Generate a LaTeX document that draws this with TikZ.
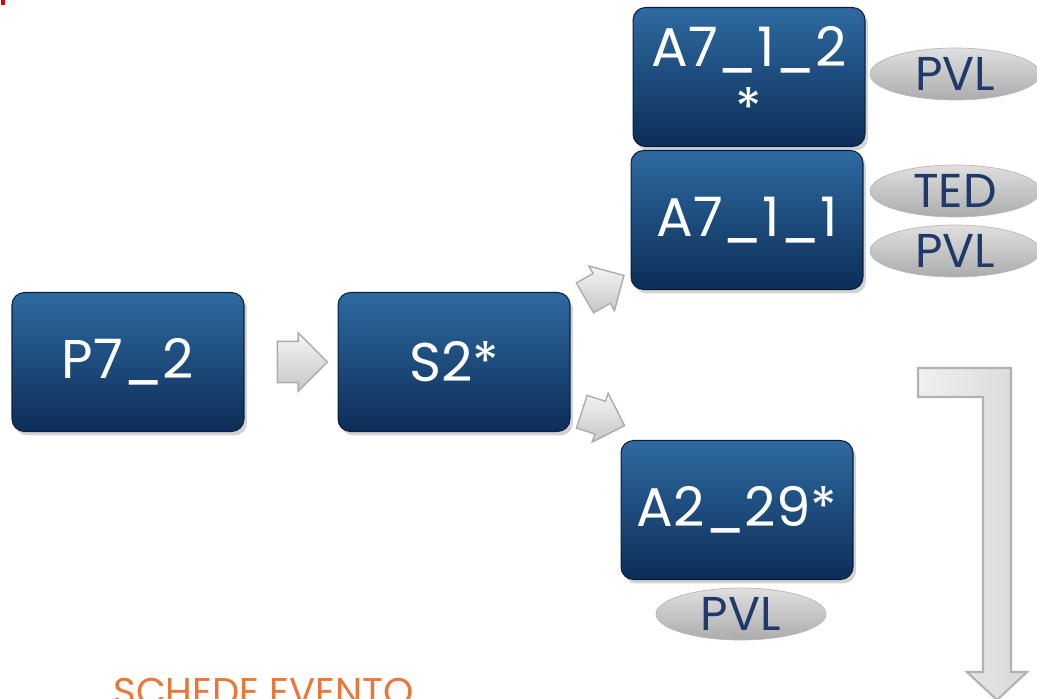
\documentclass[tikz,border=0pt]{standalone}
\usepackage{fontspec}
\setmainfont{Poppins}
\usepackage{tikz}
\usetikzlibrary{shapes.geometric}
\usetikzlibrary{shapes.arrows}
\usetikzlibrary{shadows}

\definecolor{boxtop}{HTML}{2E6AA1}
\definecolor{boxbot}{HTML}{0C2D57}
\definecolor{pvltext}{HTML}{1F3A6A}
\definecolor{titleorange}{HTML}{E8773A}

\begin{document}
\begin{tikzpicture}[x=0.02cm, y=-0.02cm,
    card/.style={rounded corners=0.25cm, top color=boxtop, bottom color=boxbot,
        draw=boxbot!70!black, line width=0.6pt, minimum width=4.64cm, minimum height=2.78cm,
        text=white, align=center, font=\fontsize{31}{33}\selectfont,
        drop shadow={shadow xshift=0.6mm, shadow yshift=-0.8mm, opacity=0.35}},
    tag/.style={ellipse, top color=gray!25, bottom color=gray!65, draw=gray!55,
        minimum width=3.4cm, minimum height=1.04cm, inner sep=0pt,
        text=pvltext, font=\fontsize{27}{28}\selectfont},
    blockarrow/.style={single arrow, inner sep=0pt, single arrow head extend=0.17cm,
        top color=gray!8, bottom color=gray!45, draw=gray!65, line width=0.8pt}
    ]
            % Fix the size of the picture
            \useasboundingbox (0,0) rectangle (1037,699);

            % Small red mark in the corner
            \fill[red!85!black] (1,0) rectangle (5,5);

            % Draw the cards
            \node[card] (P72) at (128,362) {P7\_2};
            \node[card] (S2) at (454,362) {S2*};
            \node[card] (A712) at (749,77) {A7\_1\_2\\[2pt]*};
            \node[card] (A711) at (747,220) {A7\_1\_1};
            \node[card] (A229) at (737,510) {A2\_29*};

            % Draw the grey tags
            \node[tag] (pvl1) at (955,74) {PVL};
            \node[tag] (ted) at (955,191) {TED};
            \node[tag] (pvl2) at (955,251) {PVL};
            \node[tag] (pvl3) at (741,614) {PVL};

            % Draw the block arrows between the cards
            \node[blockarrow, minimum height=1cm] (arr1) at (292,362) {\rule{0pt}{0.8cm}};
            \node[blockarrow, minimum height=0.9cm, rotate=30] (arr2) at (597,291) {\rule{0pt}{0.66cm}};
            \node[blockarrow, minimum height=0.9cm, rotate=-18] (arr3) at (595,416) {\rule{0pt}{0.66cm}};

            % Draw the bent arrow
            \draw[line width=1.2pt, draw=gray!60, left color=gray!12, right color=gray!30]
                (918,368) -- (1011,368) -- (1011,672) -- (1027,672) -- (997,700)
                -- (967,672) -- (983,672) -- (983,397) -- (918,397) -- cycle;

            % Title at the bottom
            \node[anchor=south west, inner sep=0pt, text=titleorange,
                font=\fontsize{22}{24}\selectfont] (title) at (113,706) {SCHEDE EVENTO};

\end{tikzpicture}
\end{document}
